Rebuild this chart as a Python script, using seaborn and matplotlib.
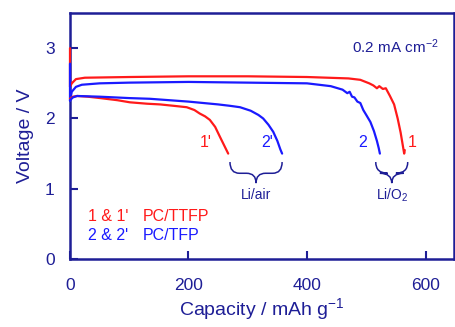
import numpy as np
import pandas as pd
import matplotlib
matplotlib.use("Agg")
import matplotlib.pyplot as plt
from matplotlib.path import Path
from matplotlib.patches import PathPatch
import seaborn as sns

# ---- data ----
cap1 = [0, 0, 3, 10, 25, 100, 200, 300, 400, 470, 490, 505, 512, 518, 522, 528, 533,
        540, 547, 553, 558, 561, 563, 564, 565]
v1 = [3.00, 2.45, 2.50, 2.56, 2.58, 2.59, 2.60, 2.60, 2.59, 2.57, 2.55, 2.50, 2.47,
      2.43, 2.46, 2.42, 2.43, 2.32, 2.20, 2.00, 1.80, 1.65, 1.55, 1.50, 1.55]

cap2 = [0, 0, 3, 10, 20, 50, 100, 200, 300, 400, 440, 460, 468, 472, 476, 480, 485,
        490, 495, 500, 507, 513, 518, 521, 523]
v2 = [2.78, 2.25, 2.38, 2.45, 2.48, 2.50, 2.51, 2.52, 2.51, 2.50, 2.46, 2.41, 2.36,
      2.38, 2.31, 2.30, 2.24, 2.22, 2.12, 2.05, 1.95, 1.82, 1.68, 1.58, 1.50]

cap3 = [0, 5, 12, 30, 51, 80, 101, 130, 152, 175, 197, 210, 219, 228, 236, 245, 253,
        260, 267]
v3 = [2.28, 2.31, 2.32, 2.31, 2.29, 2.26, 2.23, 2.21, 2.20, 2.18, 2.16, 2.12, 2.07,
      2.03, 1.98, 1.88, 1.74, 1.62, 1.50]

cap4 = [0, 5, 12, 50, 100, 135, 200, 250, 270, 287, 305, 318, 326, 335, 343, 350, 355,
        358]
v4 = [2.26, 2.30, 2.32, 2.31, 2.29, 2.28, 2.24, 2.20, 2.18, 2.16, 2.11, 2.05, 2.00,
      1.91, 1.81, 1.68, 1.56, 1.50]

curve_names = ["1", "2", "1'", "2'"]
x_ticks = [0, 200, 400, 600]
y_ticks = [0, 1, 2, 3]

RED = "#ff1a1a"
BLUE = "#1a1aff"
NAVY = "#1e1e96"

df = pd.concat([
    pd.DataFrame({"cap": cap1, "v": v1, "curve": "1"}),
    pd.DataFrame({"cap": cap2, "v": v2, "curve": "2"}),
    pd.DataFrame({"cap": cap3, "v": v3, "curve": "1'"}),
    pd.DataFrame({"cap": cap4, "v": v4, "curve": "2'"}),
], ignore_index=True)

sns.set_style("ticks")
plt.rcParams["font.family"] = ["Liberation Sans", "DejaVu Sans"]
plt.rcParams["mathtext.fontset"] = "custom"
plt.rcParams["mathtext.rm"] = "Liberation Sans"
plt.rcParams["mathtext.it"] = "Liberation Sans"

fig = plt.figure(figsize=(4.56, 3.27), dpi=100)
ax = fig.add_axes([0.1535, 0.208, 0.842, 0.752])

palette = {"1": RED, "2": BLUE, "1'": RED, "2'": BLUE}
sns.lineplot(data=df, x="cap", y="v", hue="curve", hue_order=["1", "2", "1'", "2'"],
             palette=palette, sort=False, estimator=None, units="curve",
             linewidth=1.6, legend=False, ax=ax)
for ln in ax.lines:
    ln.set_clip_on(False)
    ln.set_zorder(5)

ax.set_xlim(0, 648)
ax.set_ylim(0, 3.5)
ax.set_xticks(x_ticks)
ax.set_yticks(y_ticks)
ax.tick_params(direction="in", length=6, width=1.5, colors=NAVY, labelsize=12.5,
               labelcolor=NAVY)
ax.tick_params(axis="x", pad=14)
ax.tick_params(axis="y", pad=11)
for s in ax.spines.values():
    s.set_color(NAVY)
    s.set_linewidth(1.8)

ax.set_xlabel("Capacity / mAh g$^{-1}$", fontsize=14, color=NAVY, labelpad=2)
ax.set_ylabel("Voltage / V", fontsize=14, color=NAVY, labelpad=8)

# curve labels
lab_fs = 11.5
ax.text(229, 1.66, "1'", color=RED, fontsize=lab_fs, ha="center", va="center")
ax.text(332, 1.66, "2'", color=BLUE, fontsize=lab_fs, ha="center", va="center")
ax.text(494, 1.66, "2", color=BLUE, fontsize=lab_fs, ha="center", va="center")
ax.text(577, 1.66, "1", color=RED, fontsize=lab_fs, ha="center", va="center")

ax.text(476, 3.02, "0.2 mA cm$^{-2}$", color=NAVY, fontsize=11, ha="left", va="center")

ax.text(30, 0.60, "1 & 1'", color=RED, fontsize=11.5, ha="left", va="center")
ax.text(123, 0.60, "PC/TTFP", color=RED, fontsize=11.5, ha="left", va="center")
ax.text(30, 0.33, "2 & 2'", color=BLUE, fontsize=11.5, ha="left", va="center")
ax.text(123, 0.33, "PC/TFP", color=BLUE, fontsize=11.5, ha="left", va="center")


def brace(x0, x1, yt, ym, yb, r):
    xm = (x0 + x1) / 2
    verts = [(x0, yt), (x0, ym), (x0 + r, ym),
             (xm - r, ym), (xm, ym), (xm, yb),
             (xm, ym), (xm + r, ym),
             (x1 - r, ym), (x1, ym), (x1, yt)]
    codes = [Path.MOVETO, Path.CURVE3, Path.CURVE3,
             Path.LINETO, Path.CURVE3, Path.CURVE3,
             Path.CURVE3, Path.CURVE3,
             Path.LINETO, Path.CURVE3, Path.CURVE3]
    ax.add_patch(PathPatch(Path(verts, codes), fill=False, edgecolor=NAVY, lw=1.1))


brace(270, 358, 1.38, 1.22, 1.08, 16)
brace(516, 570, 1.38, 1.22, 1.08, 20)
ax.text(314, 0.91, "Li/air", color=NAVY, fontsize=10, ha="center", va="center")
ax.text(543, 0.91, "Li/O$_2$", color=NAVY, fontsize=10, ha="center", va="center")

fig.savefig("out.png", dpi=100)
